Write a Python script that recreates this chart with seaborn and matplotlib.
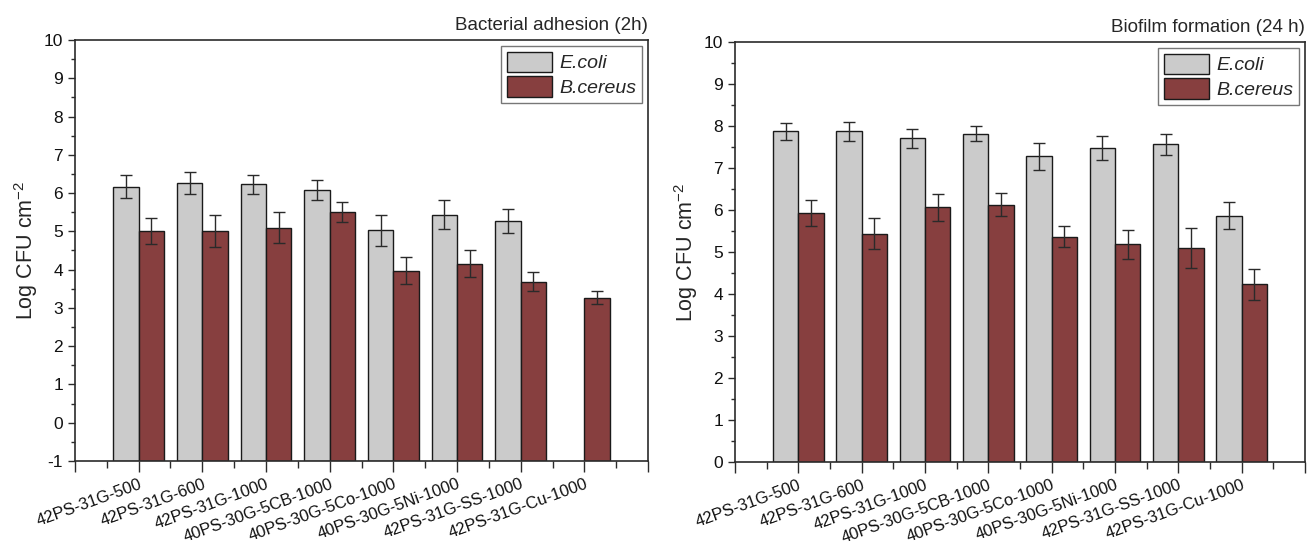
import numpy as np
import pandas as pd
import matplotlib
matplotlib.use("Agg")
import matplotlib.pyplot as plt
import seaborn as sns

# Sample names and bacterial species
samples = ["42PS-31G-500", "42PS-31G-600", "42PS-31G-1000", "40PS-30G-5CB-1000",
           "40PS-30G-5Co-1000", "40PS-30G-5Ni-1000", "42PS-31G-SS-1000", "42PS-31G-Cu-1000"]
species = ["E.coli", "B.cereus"]

# Bacterial adhesion after 2 h (log CFU cm^-2, mean and SD)
adh_ecoli = [6.17, 6.26, 6.23, 6.08, 5.03, 5.44, 5.27, np.nan]
adh_ecoli_sd = [0.29, 0.28, 0.25, 0.27, 0.40, 0.37, 0.31, np.nan]
adh_bcereus = [5.01, 5.02, 5.10, 5.50, 3.97, 4.16, 3.68, 3.27]
adh_bcereus_sd = [0.34, 0.42, 0.41, 0.26, 0.35, 0.36, 0.25, 0.18]

# Biofilm formation after 24 h
bio_ecoli = [7.87, 7.87, 7.71, 7.82, 7.28, 7.47, 7.56, 5.86]
bio_ecoli_sd = [0.21, 0.22, 0.23, 0.17, 0.32, 0.29, 0.24, 0.32]
bio_bcereus = [5.94, 5.44, 6.06, 6.13, 5.36, 5.18, 5.09, 4.23]
bio_bcereus_sd = [0.31, 0.38, 0.33, 0.27, 0.25, 0.34, 0.47, 0.37]

colors = {"E.coli": "#cbcbcb", "B.cereus": "#873f3f"}

sns.set_style("ticks")
plt.rcParams["font.family"] = ["Liberation Sans", "DejaVu Sans"]
plt.rcParams["mathtext.fontset"] = "custom"
plt.rcParams["mathtext.rm"] = "Liberation Sans"
plt.rcParams["mathtext.it"] = "Liberation Sans:italic"
plt.rcParams["axes.unicode_minus"] = False

AX_COLOR = "#2b2b2b"


def panel(ax, ecoli, ecoli_sd, bcereus, bcereus_sd, ymin, ymax, title):
    df = pd.DataFrame({
        "sample": samples * 2,
        "species": [species[0]] * len(samples) + [species[1]] * len(samples),
        "value": list(ecoli) + list(bcereus),
    })
    sds = {species[0]: ecoli_sd, species[1]: bcereus_sd}
    sns.barplot(data=df, x="sample", y="value", hue="species", order=samples,
                hue_order=species, palette=colors, errorbar=None, width=0.8,
                saturation=1, edgecolor="#1a1a1a", linewidth=1.0, ax=ax)

    # bars rise from the bottom of the axis; add SD error bars
    for container, sp in zip(ax.containers, species):
        for bar in container:
            h = bar.get_height()
            if not np.isfinite(h):
                continue
            cx = bar.get_x() + bar.get_width() / 2
            idx = int(round(cx))
            bar.set_y(ymin)
            bar.set_height(h - ymin)
            ax.errorbar(cx, h, yerr=sds[sp][idx], fmt="none", ecolor="#2a2a2a",
                        elinewidth=1.0, capsize=4.5, capthick=1.0, zorder=5)

    ax.set_xlim(-1, len(samples))
    ax.set_ylim(ymin, ymax)
    ax.set_xticks(np.arange(-1, len(samples) + 1))
    ax.set_xticklabels([""] + samples + [""], rotation=20, ha="right",
                       rotation_mode="anchor", fontsize=12)
    ax.set_xticks(np.arange(-0.5, len(samples), 1.0), minor=True)
    ax.set_yticks(np.arange(ymin, ymax + 1))
    ax.set_yticks(np.arange(ymin + 0.5, ymax, 1.0), minor=True)
    ax.tick_params(axis="y", labelsize=12.5, colors=AX_COLOR, labelcolor="#111111")
    ax.tick_params(axis="y", which="major", length=5, width=1.0, direction="out")
    ax.tick_params(axis="y", which="minor", length=3, width=1.0, direction="out", colors=AX_COLOR)
    ax.tick_params(axis="x", which="major", length=8, width=1.0, direction="out",
                   colors=AX_COLOR, labelcolor="#111111", pad=3)
    ax.tick_params(axis="x", which="minor", length=5, width=1.0, direction="out", colors=AX_COLOR)
    for s in ax.spines.values():
        s.set_visible(True)
        s.set_linewidth(1.2)
        s.set_color(AX_COLOR)
    ax.set_xlabel("")
    ax.set_ylabel("Log CFU cm$^{-2}$", fontsize=15.5, labelpad=3)
    ax.set_title(title, loc="right", fontsize=13.5, pad=7)

    handles, labels = ax.get_legend_handles_labels()
    leg = ax.legend(handles, labels, loc="upper right", frameon=True, fancybox=False,
                    edgecolor="#777777", framealpha=1, handlelength=2.3, handleheight=1.25,
                    labelspacing=0.2, borderpad=0.3, handletextpad=0.4,
                    borderaxespad=0.3, prop={"style": "italic", "size": 14})
    leg.get_frame().set_linewidth(1.0)


fig = plt.figure(figsize=(13.11, 5.47), dpi=100)
ax1 = fig.add_axes([0.0572, 0.1572, 0.4371, 0.7697])
ax2 = fig.add_axes([0.5606, 0.1554, 0.4348, 0.7678])

panel(ax1, adh_ecoli, adh_ecoli_sd, adh_bcereus, adh_bcereus_sd, -1, 10,
      "Bacterial adhesion (2h)")
panel(ax2, bio_ecoli, bio_ecoli_sd, bio_bcereus, bio_bcereus_sd, 0, 10,
      "Biofilm formation (24 h)")

fig.savefig("out.png", dpi=100)
